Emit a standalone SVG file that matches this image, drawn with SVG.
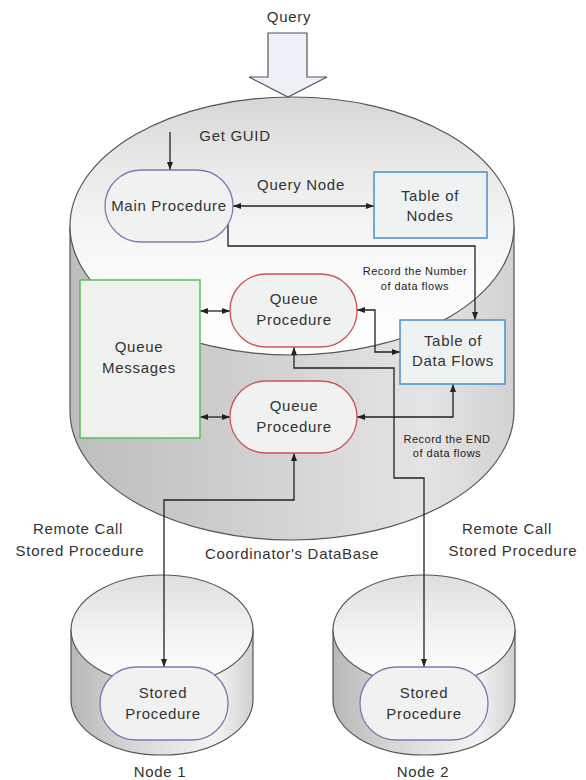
<svg xmlns="http://www.w3.org/2000/svg" width="586" height="780" viewBox="0 0 586 780">
  <defs>
    <linearGradient id="bodyBig" x1="0" y1="0" x2="1" y2="0">
      <stop offset="0" stop-color="#bdbdbd"/>
      <stop offset="0.35" stop-color="#cdcdcd"/>
      <stop offset="0.8" stop-color="#e4e4e4"/>
      <stop offset="1" stop-color="#d2d2d2"/>
    </linearGradient>
    <linearGradient id="topBig" x1="0" y1="0" x2="0" y2="1">
      <stop offset="0" stop-color="#d6d6d6"/>
      <stop offset="0.3" stop-color="#ebebeb"/>
      <stop offset="0.6" stop-color="#f8f8f8"/>
      <stop offset="1" stop-color="#ffffff"/>
    </linearGradient>
    <linearGradient id="bodySmall" x1="0" y1="0" x2="1" y2="0">
      <stop offset="0" stop-color="#b8b8b8"/>
      <stop offset="0.3" stop-color="#d4d4d4"/>
      <stop offset="0.8" stop-color="#f4f4f4"/>
      <stop offset="1" stop-color="#d0d0d0"/>
    </linearGradient>
    <linearGradient id="topSmall" x1="0" y1="0" x2="0" y2="1">
      <stop offset="0" stop-color="#dedede"/>
      <stop offset="0.5" stop-color="#f2f2f2"/>
      <stop offset="1" stop-color="#ffffff"/>
    </linearGradient>
    <marker id="head" markerUnits="userSpaceOnUse" markerWidth="8" markerHeight="6" refX="8" refY="3" orient="auto-start-reverse">
      <path d="M0,0 L8,3 L0,6 Z" fill="#222"/>
    </marker>
    <style>
      text { font-family: "Liberation Sans", Arial, sans-serif; font-size: 15px; fill: #333; letter-spacing: 0.7px; text-anchor: middle; }
      .note { font-size: 11px; fill: #222; letter-spacing: 0.5px; }
      .cyl { stroke: #555; stroke-width: 1.2; }
      .wire { fill: none; stroke: #222; stroke-width: 1.3; }
      .proc { stroke-width: 1.3; fill: #f0f1f1; }
      .purple { stroke: #8e70b4; }
      .red { stroke: #d05252; }
      .blue { fill: #eff2f3; stroke: #4a8fcf; stroke-width: 1.5; }
      .green { fill: #eef1ee; stroke: #5cbf5c; stroke-width: 1.5; }
    </style>
  </defs>

  <rect width="586" height="780" fill="#ffffff"/>

  <!-- coordinator database cylinder -->
  <g id="coordinator-db">
    <path class="cyl" d="M70,226 L70,411 A222,129 0 0 0 514,411 L514,226 Z" fill="url(#bodyBig)"/>
    <ellipse class="cyl" cx="292" cy="226" rx="222" ry="129" fill="url(#topBig)"/>
    <text x="292" y="559">Coordinator's DataBase</text>
  </g>

  <!-- node cylinders -->
  <g id="node1-db">
    <path class="cyl" d="M71,630 L71,700 A91,55 0 0 0 253,700 L253,630 Z" fill="url(#bodySmall)" stroke-width="1.6"/>
    <ellipse class="cyl" cx="162" cy="630" rx="91" ry="55" fill="url(#topSmall)"/>
    <text x="160" y="777">Node 1</text>
  </g>
  <g id="node2-db">
    <path class="cyl" d="M333,630 L333,700 A91,55 0 0 0 515,700 L515,630 Z" fill="url(#bodySmall)" stroke-width="1.6"/>
    <ellipse class="cyl" cx="424" cy="630" rx="91" ry="55" fill="url(#topSmall)"/>
    <text x="423" y="777">Node 2</text>
  </g>

  <!-- incoming query -->
  <g id="query">
    <text x="289" y="22">Query</text>
    <polygon points="268,33 307,33 307,77 327,77 288,97 249,77 268,77" fill="#eef0f7" stroke="#555" stroke-width="1.2"/>
  </g>

  <!-- connectors -->
  <g id="connectors">
    <path class="wire" d="M170,132 L170,170" marker-end="url(#head)"/>
    <path class="wire" d="M233,206 L374,206" marker-start="url(#head)" marker-end="url(#head)"/>
    <path class="wire" d="M228,224 L228,246 L475,246 L475,320" marker-end="url(#head)"/>
    <path class="wire" d="M200,311 L230,311" marker-start="url(#head)" marker-end="url(#head)"/>
    <path class="wire" d="M200,417 L230,417" marker-start="url(#head)" marker-end="url(#head)"/>
    <path class="wire" d="M357,310 L375,310 L375,352 L400,352" marker-start="url(#head)" marker-end="url(#head)"/>
    <path class="wire" d="M357,417 L453,417 L453,384" marker-start="url(#head)" marker-end="url(#head)"/>
    <path class="wire" d="M294,347 L294,368 L394,368 L394,478 L424,478 L424,667" marker-start="url(#head)" marker-end="url(#head)"/>
    <path class="wire" d="M294,453 L294,500 L164,500 L164,667" marker-start="url(#head)" marker-end="url(#head)"/>
  </g>

  <!-- labels -->
  <g id="labels">
    <text x="235" y="141">Get GUID</text>
    <text x="301" y="190">Query Node</text>
    <text class="note" x="415" y="275">Record the Number</text>
    <text class="note" x="415" y="290">of data flows</text>
    <text class="note" x="447" y="443">Record the END</text>
    <text class="note" x="447" y="457">of data flows</text>
    <text x="78" y="534">Remote Call</text>
    <text x="80" y="556">Stored Procedure</text>
    <text x="507" y="534">Remote Call</text>
    <text x="513" y="556">Stored Procedure</text>
  </g>

  <!-- nodes -->
  <g id="main-procedure">
    <rect class="proc purple" x="105" y="170" width="128" height="72" rx="36" ry="36"/>
    <text x="169" y="211">Main Procedure</text>
  </g>
  <g id="table-of-nodes">
    <rect class="blue" x="374" y="172" width="113" height="66"/>
    <text x="430" y="201">Table of</text>
    <text x="430" y="221">Nodes</text>
  </g>
  <g id="queue-messages">
    <rect class="green" x="80" y="280" width="120" height="158"/>
    <text x="139" y="352">Queue</text>
    <text x="139" y="373">Messages</text>
  </g>
  <g id="queue-procedure-1">
    <rect class="proc red" x="230" y="274" width="127" height="73" rx="36" ry="36"/>
    <text x="294" y="304">Queue</text>
    <text x="294" y="325">Procedure</text>
  </g>
  <g id="queue-procedure-2">
    <rect class="proc red" x="230" y="381" width="127" height="72" rx="36" ry="36"/>
    <text x="294" y="411">Queue</text>
    <text x="294" y="432">Procedure</text>
  </g>
  <g id="table-of-data-flows">
    <rect class="blue" x="400" y="320" width="105" height="64"/>
    <text x="453" y="346">Table of</text>
    <text x="453" y="366">Data Flows</text>
  </g>
  <g id="stored-procedure-1">
    <rect class="proc purple" x="100" y="667" width="128" height="73" rx="36" ry="36"/>
    <text x="163" y="698">Stored</text>
    <text x="163" y="719">Procedure</text>
  </g>
  <g id="stored-procedure-2">
    <rect class="proc purple" x="360" y="667" width="128" height="73" rx="36" ry="36"/>
    <text x="424" y="698">Stored</text>
    <text x="424" y="719">Procedure</text>
  </g>
</svg>
